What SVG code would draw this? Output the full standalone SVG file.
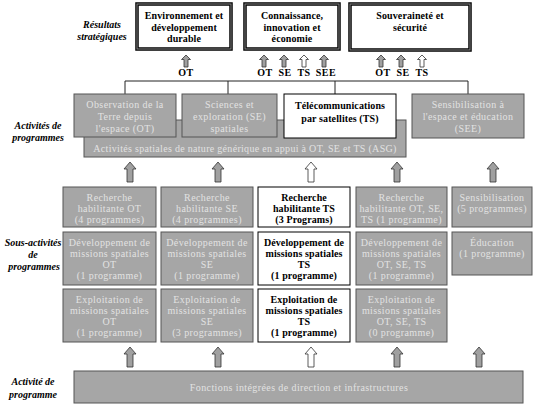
<svg xmlns="http://www.w3.org/2000/svg" width="537" height="409" viewBox="0 0 537 409">
<style>
text{font-family:"Liberation Serif","Times New Roman",serif;font-size:10px;text-anchor:middle}
.g{fill:#a6a6a6;stroke:#555;stroke-width:1}
.gt{fill:#e2e2e2;letter-spacing:0.4px}
.w{fill:#fff;stroke:#000;stroke-width:1}
.wt{fill:#000;font-weight:bold;letter-spacing:0.1px}
.top{fill:#fff;stroke:#000;stroke-width:3.5}
.topin{fill:none;stroke:#888;stroke-width:1}
.lbl{fill:#000;font-weight:bold;font-style:italic}
.cl{fill:#000;font-weight:bold;letter-spacing:0.5px}
.ln{stroke:#222;stroke-width:1;fill:none}
.ag{fill:#a0a0a0;stroke:#333;stroke-width:0.8}
.aw{fill:#fff;stroke:#333;stroke-width:0.8}
</style>
<defs>
<path id="sa" d="M0,0 L4.5,4.5 L2,4.5 L2,12 L-2,12 L-2,4.5 L-4.5,4.5 Z"/>
<path id="ba" d="M0,0 L6,7 L3,7 L3,20 L-3,20 L-3,7 L-6,7 Z"/>
</defs>

<g id="labels">
<text class="lbl" x="102" y="28">Résultats</text>
<text class="lbl" x="102" y="40">stratégiques</text>
<text class="lbl" x="38" y="129">Activités de</text>
<text class="lbl" x="38" y="141">programmes</text>
<text class="lbl" x="33" y="246">Sous-activités</text>
<text class="lbl" x="33" y="258">de</text>
<text class="lbl" x="34" y="270">programmes</text>
<text class="lbl" x="33" y="385">Activité de</text>
<text class="lbl" x="33" y="398">programme</text>
</g>

<g id="res-env">
<rect class="top" x="137" y="4" width="94" height="45"/>
<rect class="topin" x="137" y="4" width="94" height="45"/>
<text class="wt" x="184" y="18.5">Environnement et</text>
<text class="wt" x="184" y="30.5">développement</text>
<text class="wt" x="184" y="42">durable</text>
</g>
<g id="res-con">
<rect class="top" x="245" y="4" width="94" height="45"/>
<rect class="topin" x="245" y="4" width="94" height="45"/>
<text class="wt" x="292" y="18.5">Connaissance,</text>
<text class="wt" x="292" y="30.5">innovation et</text>
<text class="wt" x="292" y="42">économie</text>
</g>
<g id="res-sou">
<rect class="top" x="350" y="4" width="120" height="46"/>
<rect class="topin" x="350" y="4" width="120" height="46"/>
<text class="wt" x="410" y="18.5">Souveraineté et</text>
<text class="wt" x="410" y="30.5">sécurité</text>
</g>

<g id="connectors">
<use href="#sa" class="ag" x="186" y="55"/>
<use href="#sa" class="ag" x="264" y="55"/>
<use href="#sa" class="ag" x="284" y="55"/>
<use href="#sa" class="aw" x="304" y="55"/>
<use href="#sa" class="ag" x="324" y="55"/>
<use href="#sa" class="ag" x="381" y="55"/>
<use href="#sa" class="ag" x="401" y="55"/>
<use href="#sa" class="aw" x="422" y="55"/>
<text class="cl" x="186" y="76">OT</text>
<text class="cl" x="265" y="76">OT</text>
<text class="cl" x="285" y="76">SE</text>
<text class="cl" x="304" y="76">TS</text>
<text class="cl" x="326" y="76">SEE</text>
<text class="cl" x="383" y="76">OT</text>
<text class="cl" x="403" y="76">SE</text>
<text class="cl" x="422" y="76">TS</text>
<path class="ln" d="M125,94 V81 H468 V94 M228,81 V94 M335,81 V94"/>
<use href="#ba" class="ag" x="130" y="162"/>
<use href="#ba" class="ag" x="218" y="162"/>
<use href="#ba" class="aw" x="311" y="162"/>
<use href="#ba" class="ag" x="397" y="162"/>
<use href="#ba" class="ag" x="493" y="162"/>
<use href="#ba" class="ag" x="130" y="347"/>
<use href="#ba" class="ag" x="218" y="347"/>
<use href="#ba" class="aw" x="311" y="347"/>
<use href="#ba" class="ag" x="397" y="347"/>
<use href="#ba" class="ag" x="479" y="347"/>
</g>

<g id="asg">
<rect class="g" x="84" y="120" width="322" height="37"/>
<text class="gt" x="245" y="151.5" style="letter-spacing:0.3px">Activités spatiales de nature générique en appui à OT, SE et TS (ASG)</text>
</g>
<g id="prog-ot">
<rect class="g" x="74" y="94" width="102" height="43"/>
<text class="gt" x="125" y="108">Observation de la</text>
<text class="gt" x="125" y="120">Terre depuis</text>
<text class="gt" x="125" y="132">l'espace (OT)</text>
</g>
<g id="prog-se">
<rect class="g" x="182" y="94" width="95" height="43"/>
<text class="gt" x="229.5" y="108">Sciences et</text>
<text class="gt" x="229.5" y="120">exploration (SE)</text>
<text class="gt" x="229.5" y="132">spatiales</text>
</g>
<g id="prog-ts">
<rect class="w" x="284" y="94" width="112" height="44"/>
<text class="wt" x="340" y="109">Télécommunications</text>
<text class="wt" x="340" y="122">par satellites (TS)</text>
</g>
<g id="prog-see">
<rect class="g" x="412" y="94" width="112" height="44"/>
<text class="gt" x="468" y="108">Sensibilisation à</text>
<text class="gt" x="468" y="120">l'espace et éducation</text>
<text class="gt" x="468" y="132">(SEE)</text>
</g>

<g id="rech-ot">
<rect class="g" x="63" y="187" width="93" height="40"/>
<text class="gt" x="109.5" y="200.5">Recherche</text>
<text class="gt" x="109.5" y="211.5">habilitante OT</text>
<text class="gt" x="109.5" y="222.5">(4 programmes)</text>
</g>
<g id="rech-se">
<rect class="g" x="161" y="187" width="92" height="40"/>
<text class="gt" x="207" y="200.5">Recherche</text>
<text class="gt" x="207" y="211.5">habilitante SE</text>
<text class="gt" x="207" y="222.5">(4 programmes)</text>
</g>
<g id="rech-ts">
<rect class="w" x="258" y="187" width="92" height="40"/>
<text class="wt" x="304" y="200.5">Recherche</text>
<text class="wt" x="304" y="211.5">habilitante TS</text>
<text class="wt" x="304" y="222.5">(3 Programs)</text>
</g>
<g id="rech-multi">
<rect class="g" x="356" y="187" width="91" height="40"/>
<text class="gt" x="401.5" y="200.5">Recherche</text>
<text class="gt" x="401.5" y="211.5">habilitante OT, SE,</text>
<text class="gt" x="401.5" y="222.5">TS (1 programme)</text>
</g>
<g id="sensib">
<rect class="g" x="452" y="187" width="80" height="40"/>
<text class="gt" x="492" y="200.5">Sensibilisation</text>
<text class="gt" x="492" y="211.5">(5 programmes)</text>
</g>

<g id="dev-ot">
<rect class="g" x="63" y="232" width="93" height="53"/>
<text class="gt" x="109.5" y="245.5">Développement de</text>
<text class="gt" x="109.5" y="256.5">missions spatiales</text>
<text class="gt" x="109.5" y="267.5">OT</text>
<text class="gt" x="109.5" y="278.5">(1 programme)</text>
</g>
<g id="dev-se">
<rect class="g" x="161" y="232" width="92" height="53"/>
<text class="gt" x="207" y="245.5">Développement de</text>
<text class="gt" x="207" y="256.5">missions spatiales</text>
<text class="gt" x="207" y="267.5">SE</text>
<text class="gt" x="207" y="278.5">(1 programme)</text>
</g>
<g id="dev-ts">
<rect class="w" x="258" y="232" width="92" height="53"/>
<text class="wt" x="304" y="245.5">Développement de</text>
<text class="wt" x="304" y="256.5">missions spatiales</text>
<text class="wt" x="304" y="267.5">TS</text>
<text class="wt" x="304" y="278.5">(1 programme)</text>
</g>
<g id="dev-multi">
<rect class="g" x="356" y="232" width="91" height="53"/>
<text class="gt" x="401.5" y="245.5">Développement de</text>
<text class="gt" x="401.5" y="256.5">missions spatiales</text>
<text class="gt" x="401.5" y="267.5">OT, SE, TS</text>
<text class="gt" x="401.5" y="278.5">(1 programme)</text>
</g>
<g id="educ">
<rect class="g" x="452" y="232" width="80" height="43"/>
<text class="gt" x="492" y="245.5">Éducation</text>
<text class="gt" x="492" y="256.5">(1 programme)</text>
</g>

<g id="exp-ot">
<rect class="g" x="63" y="289" width="93" height="53"/>
<text class="gt" x="109.5" y="302.5">Exploitation de</text>
<text class="gt" x="109.5" y="313.5">missions spatiales</text>
<text class="gt" x="109.5" y="324.5">OT</text>
<text class="gt" x="109.5" y="335.5">(1 programme)</text>
</g>
<g id="exp-se">
<rect class="g" x="161" y="289" width="92" height="53"/>
<text class="gt" x="207" y="302.5">Exploitation de</text>
<text class="gt" x="207" y="313.5">missions spatiales</text>
<text class="gt" x="207" y="324.5">SE</text>
<text class="gt" x="207" y="335.5">(3 programmes)</text>
</g>
<g id="exp-ts">
<rect class="w" x="258" y="289" width="92" height="53"/>
<text class="wt" x="304" y="302.5">Exploitation de</text>
<text class="wt" x="304" y="313.5">missions spatiales</text>
<text class="wt" x="304" y="324.5">TS</text>
<text class="wt" x="304" y="335.5">(1 programme)</text>
</g>
<g id="exp-multi">
<rect class="g" x="356" y="289" width="91" height="53"/>
<text class="gt" x="401.5" y="302.5">Exploitation de</text>
<text class="gt" x="401.5" y="313.5">missions spatiales</text>
<text class="gt" x="401.5" y="324.5">OT, SE, TS</text>
<text class="gt" x="401.5" y="335.5">(0 programme)</text>
</g>

<g id="fonctions">
<rect class="g" x="74" y="371" width="449" height="32"/>
<text class="gt" x="299" y="390.5">Fonctions intégrées de direction et infrastructures</text>
</g>
</svg>
